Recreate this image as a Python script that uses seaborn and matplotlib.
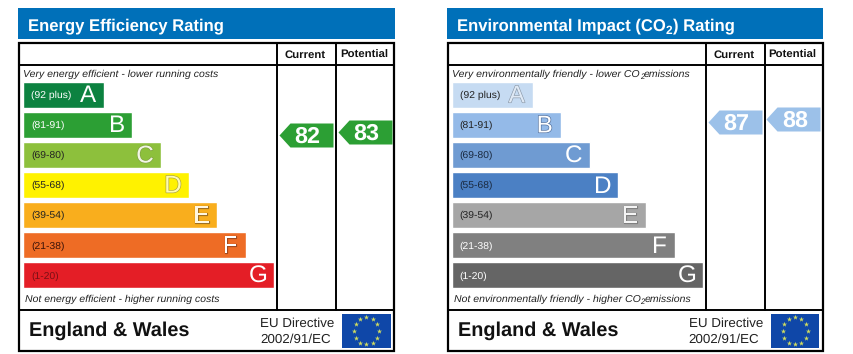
import numpy as np
import pandas as pd
import matplotlib
matplotlib.use("Agg")
import matplotlib.pyplot as plt
import matplotlib.patheffects as pe
from matplotlib.path import Path
from matplotlib.patches import Rectangle
import seaborn as sns

# bands, same for both panels
bands = ["A", "B", "C", "D", "E", "F", "G"]
band_ranges = ["(92 plus)", "(81-91)", "(69-80)", "(55-68)", "(39-54)", "(21-38)", "(1-20)"]
band_lengths = [81, 109, 138, 166, 194.5, 223, 251.5]
columns = ["Current", "Potential"]

# energy panel, text pieces alternate normal / subscript
energy_title = ["Energy Efficiency Rating"]
energy_top = ["Very energy efficient - lower running costs"]
energy_bottom = ["Not energy efficient - higher running costs"]
energy_scores = [82, 83]
energy_colors = ["#0c8240", "#2c9f34", "#8dc03c", "#fff200", "#f9ae1d", "#ee6c25", "#e41e26"]
energy_range_colors = ["#ffffff", "#ffffff", "#222222", "#222222", "#222222", "#3a1208", "#7a1015"]
energy_letter_fill = ["#ffffff", "#ffffff", "#f2f6e4", "#fffbb0", "#fff6e0", "#ffffff", "#ffffff"]
energy_letter_edge = [None, None, "#7fa040", "#a8a040", "#a07020", "#a04a20", None]
energy_arrow = "#2c9f34"

# co2 panel
co2_title = ["Environmental Impact (CO", "2", ") Rating"]
co2_top = ["Very environmentally friendly - lower CO", "2", "emissions"]
co2_bottom = ["Not environmentally friendly - higher CO", "2", "emissions"]
co2_scores = [87, 88]
co2_colors = ["#c6dbf2", "#94bae8", "#6f9bd2", "#4b80c4", "#a6a6a6", "#808080", "#656565"]
co2_range_colors = ["#222222", "#222222", "#1a2a40", "#1a2a40", "#222222", "#ffffff", "#ffffff"]
co2_letter_fill = ["#dfe9f5", "#ffffff", "#ffffff", "#ffffff", "#f4f4f4", "#ffffff", "#ffffff"]
co2_letter_edge = ["#8a98a8", "#4a6a9a", None, None, "#808080", None, None]
co2_arrow = "#9cc1e9"

W, H = 854, 354
sns.set_theme(style="white")
plt.rcParams["font.family"] = ["Liberation Sans", "DejaVu Sans"]
plt.rcParams["text.hinting"] = "no_hinting"


def px_axes(fig, x0, y0, x1, y1):
    """Axes placed by pixel box, y measured from the top."""
    ax = fig.add_axes([x0 / W, 1 - y1 / H, (x1 - x0) / W, (y1 - y0) / H])
    ax.patch.set_alpha(0)
    return ax


def text_runs(base, x, y, parts, fontsize, drop, **kwargs):
    """Write pieces one after the other, every second piece as a subscript."""
    renderer = base.figure.canvas.get_renderer()
    for i, part in enumerate(parts):
        sub = i % 2 == 1
        t = base.text(x, y + (drop if sub else 0), part, va="baseline",
                      fontsize=fontsize * (0.72 if sub else 1), **kwargs)
        x = base.transData.inverted().transform(t.get_window_extent(renderer).corners()[2])[0]


def draw_panel(fig, base, off, title, top, bottom, scores, colors, range_colors,
               letter_fill, letter_edge, arrow):
    # banner and table frame
    base.add_patch(Rectangle((off + 18.3, 8.3), 376.5, 30.7, color="#0070b9", lw=0))
    text_runs(base, off + 28.5, 30, title, 11.95, 3.5, color="white", fontweight="bold")
    base.add_patch(Rectangle((off + 19, 43), 375, 307.5, fill=False, ec="black", lw=1.6))
    base.plot([off + 19, off + 394], [65, 65], color="black", lw=1.4)
    base.plot([off + 19, off + 394], [310, 310], color="black", lw=1.4)
    base.plot([off + 277.5, off + 277.5], [43, 310], color="black", lw=1.4)
    base.plot([off + 336, off + 336], [43, 310], color="black", lw=1.4)
    base.text(off + 305.5, 57.7, columns[0], fontsize=8.2, fontweight="bold", ha="center", va="baseline", color="#111111")
    base.text(off + 364, 57.7, columns[1], fontsize=8.2, fontweight="bold", ha="center", va="baseline", color="#111111")

    # caption lines
    text_runs(base, off + 23.5, 76.7, top, 7.55, 2, style="italic", color="#222222")
    text_runs(base, off + 25, 301.7, bottom, 7.55, 2, style="italic", color="#222222")

    # footer
    base.text(off + 29, 336, "England & Wales", fontsize=14.35, fontweight="bold", va="baseline", color="#111111")
    base.text(off + 260, 327, "EU Directive", fontsize=9.6, va="baseline", color="#222222")
    base.text(off + 260, 342.5, "2002/91/EC", fontsize=9.6, va="baseline", color="#222222")

    # rating bands
    ax = px_axes(fig, off + 23, 79.7, off + 276, 290)
    df = pd.DataFrame({"band": bands, "length": band_lengths})
    sns.barplot(data=df, y="band", x="length", hue="band", palette=colors, saturation=1,
                dodge=False, legend=False, width=26 / 30, ax=ax)
    ax.set_xlim(0, 253)
    ax.set_ylim(6.5, -0.5)
    ax.axis("off")
    for i, (name, rng, length) in enumerate(zip(bands, band_ranges, band_lengths)):
        ax.text(8, i + 0.03, rng, fontsize=7.5, va="center", color=range_colors[i])
        label = ax.text(length - 16, i + 0.05, name, fontsize=17.5, ha="center", va="center",
                        color=letter_fill[i])
        if letter_edge[i]:
            label.set_path_effects([pe.withStroke(linewidth=0.9, foreground=letter_edge[i])])

    # score arrows, y axis is the rating itself
    score_ax = px_axes(fig, off + 276.5, 66, off + 394.2, 310)
    score_df = pd.DataFrame({"column": columns, "score": scores})
    tip = Path([(-27, 0), (-16, 12), (27, 12), (27, -12), (-16, -12), (-27, 0)], closed=True)
    sns.scatterplot(data=score_df, x="column", y="score", marker=tip, s=1512, color=arrow,
                    linewidth=0, ax=score_ax)
    score_ax.set_xlim(-0.5, 1.5)
    score_ax.set_ylim(14.7, 108.5)
    score_ax.axis("off")
    for i, score in enumerate(scores):
        score_ax.text(i + 0.03, score - 0.55, str(score), fontsize=16.8, fontweight="bold",
                      ha="center", va="center", color="white")

    # eu flag
    flag = px_axes(fig, off + 342, 314, off + 390.7, 347.7)
    flag.add_patch(Rectangle((0, 0), 1, 1, color="#0f47a8", lw=0, transform=flag.transAxes))
    angles = np.deg2rad(np.arange(0, 360, 30))
    flag.scatter(np.cos(angles) * 12.5, np.sin(angles) * 13.5, marker="*", s=15, color="#d0dc60", linewidth=0)
    flag.set_xlim(-24.35, 24.35)
    flag.set_ylim(-16.85, 16.85)
    flag.axis("off")


fig = plt.figure(figsize=(W / 100, H / 100), dpi=100, facecolor="white")
base = px_axes(fig, 0, 0, W, H)
base.set_xlim(0, W)
base.set_ylim(H, 0)
base.axis("off")

draw_panel(fig, base, 0, energy_title, energy_top, energy_bottom, energy_scores,
           energy_colors, energy_range_colors, energy_letter_fill, energy_letter_edge, energy_arrow)
draw_panel(fig, base, 428.7, co2_title, co2_top, co2_bottom, co2_scores,
           co2_colors, co2_range_colors, co2_letter_fill, co2_letter_edge, co2_arrow)

fig.savefig("out.png", dpi=100)
